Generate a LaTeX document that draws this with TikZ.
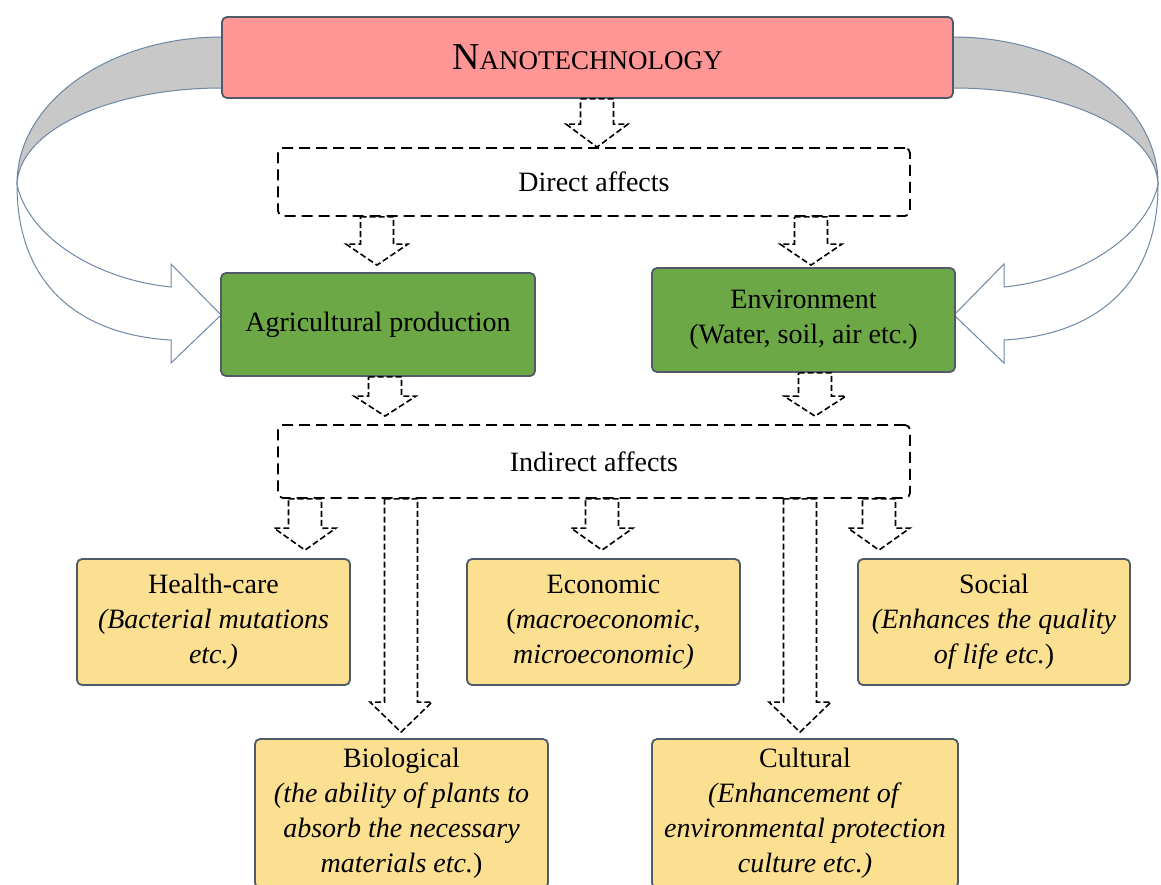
\documentclass[tikz,border=0pt]{standalone}
\usepackage{fontspec}
\setmainfont{Liberation Serif}
\usetikzlibrary{calc}
\definecolor{pinkfill}{RGB}{255,150,150}
\definecolor{greenfill}{RGB}{108,168,70}
\definecolor{yellowfill}{RGB}{252,224,146}
\definecolor{boxline}{RGB}{80,90,105}
\definecolor{curveline}{RGB}{110,135,165}
\definecolor{bandgrey}{RGB}{200,200,200}
\tikzset{
  solidbox/.style={draw=boxline, line width=1.8pt, rounded corners=5pt, align=center,
    inner sep=0pt, font=\fontsize{28}{35}\selectfont},
  titlebox/.style={solidbox, fill=pinkfill},
  greenbox/.style={solidbox, fill=greenfill},
  yellowbox/.style={solidbox, fill=yellowfill},
  dashbox/.style={draw=black, line width=1.8pt, dash pattern=on 11pt off 6pt,
    rounded corners=5pt, align=center, inner sep=0pt, font=\fontsize{28}{35}\selectfont},
  blockarrow/.style={draw=black, fill=white, line width=1.6pt,
    dash pattern=on 6pt off 3pt, line join=miter},
  band/.style={draw=curveline, line width=1pt},
}
% #1 x, #2 source node, #3 target node, #4 head length, #5 gap before target
\newcommand{\blockdown}[5]{%
  \draw[blockarrow] let \p1=(#2.south), \p2=($(#3.north)+(0,-#5)$) in
   (#1-16.5,\y1) -- (#1+16.5,\y1) -- (#1+16.5,\y2+#4pt) -- (#1+31,\y2+#4pt)
   -- (#1,\y2) -- (#1-31,\y2+#4pt) -- (#1-16.5,\y2+#4pt) -- cycle;}
\newcommand{\curvedband}{%
  \filldraw[band, fill=bandgrey] (222,37) .. controls (108,37) and (16,103) .. (17,185)
    .. controls (18,131) and (109,88) .. (222,88) -- cycle;
  \filldraw[band, fill=white] (17,185) .. controls (30,240) and (100,280) .. (171,287)
    -- (171,264) -- (221,315) -- (171,363) -- (171,340)
    .. controls (80,335) and (17,285) .. (17,185) -- cycle;}
\begin{document}
\begin{tikzpicture}[x=1pt,y=-1pt]
\useasboundingbox (0,0) rectangle (1161,885);
\fill[white] (0,0) rectangle (1161,885);

% curved side arrows
\curvedband
\begin{scope}[shift={(1175,0)}, xscale=-1]
\curvedband
\end{scope}

% nodes
\node[titlebox, minimum width=731pt, minimum height=81pt] (nano) at (587.5,57.5)
  {\fontsize{38}{40}\selectfont N\fontsize{27}{30}\selectfont ANOTECHNOLOGY};
\node[dashbox, minimum width=632pt, minimum height=68pt] (direct) at (594,182) {Direct affects};
\node[greenbox, minimum width=314pt, minimum height=103pt] (agri) at (378,324.5) {Agricultural production};
\node[greenbox, minimum width=303pt, minimum height=104pt] (env) at (803.5,320)
  {Environment\\(Water, soil, air etc.)};
\node[dashbox, minimum width=632pt, minimum height=73pt] (indirect) at (594,461.5) {Indirect affects};
\node[yellowbox, minimum width=273pt, minimum height=126pt] (health) at (213.5,622)
  {Health-care\\\textit{(Bacterial mutations}\\\textit{etc.)}};
\node[yellowbox, minimum width=273pt, minimum height=126pt] (econ) at (603.5,622)
  {Economic\\(\textit{macroeconomic,}\\\textit{microeconomic)}};
\node[yellowbox, minimum width=272pt, minimum height=126pt] (social) at (994,622)
  {Social\\\textit{(Enhances the quality}\\\textit{of life etc.})};
\node[yellowbox, minimum width=293pt, minimum height=149pt] (bio) at (401.5,813.5)
  {Biological\\\textit{(the ability of plants to}\\\textit{absorb the necessary}\\\textit{materials etc.})};
\node[yellowbox, minimum width=306pt, minimum height=149pt] (cult) at (805,813.5)
  {Cultural\\\textit{(Enhancement of}\\\textit{environmental protection}\\\textit{culture etc.)}};

% dashed block arrows
\blockdown{597}{nano}{direct}{23}{0}
\blockdown{377}{direct}{agri}{21}{7}
\blockdown{811}{direct}{env}{21}{2}
\blockdown{385}{agri}{indirect}{20}{8}
\blockdown{815}{env}{indirect}{20}{8}
\blockdown{305}{indirect}{health}{22}{8}
\blockdown{401}{indirect}{bio}{30}{6}
\blockdown{602}{indirect}{econ}{22}{8}
\blockdown{800}{indirect}{cult}{30}{6}
\blockdown{879}{indirect}{social}{22}{8}
\end{tikzpicture}
\end{document}
